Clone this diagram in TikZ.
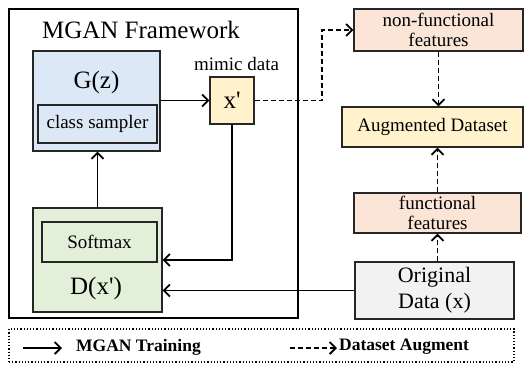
\documentclass[tikz,border=0pt]{standalone}
\usepackage{fontspec}
\setmainfont{Liberation Serif}
\usetikzlibrary{arrows.meta,positioning}
\definecolor{genblue}{RGB}{220,232,245}
\definecolor{disgreen}{RGB}{226,239,217}
\definecolor{mimicyel}{RGB}{255,242,204}
\definecolor{featsalmon}{RGB}{251,229,214}
\definecolor{origgray}{RGB}{242,242,242}

\begin{document}
\begin{tikzpicture}[
  x=1pt, y=-1pt,
  box/.style={rectangle, draw=black!85, line width=1.2pt, inner sep=0pt,
              align=center, font=\fontsize{19}{20}\selectfont},
  big/.style={inner sep=0pt, font=\fontsize{25}{27}\selectfont},
  legtext/.style={inner sep=0pt, anchor=west, font=\fontsize{17.5}{19}\selectfont\bfseries},
  train/.style={-{Straight Barb[length=6pt,width=12pt]}, line width=1.8pt},
  augment/.style={train, dash pattern=on 5pt off 3pt},
]
  \useasboundingbox (0,0) rectangle (524,364);

  % -- MGAN Framework --
  \node[rectangle, draw, line width=1.8pt, minimum width=289pt, minimum height=309pt]
    (frame) at (153.5,163.5) {};
  \node[big] (title) at (141,30) {MGAN Framework};

  % Generator
  \node[box, fill=genblue, minimum width=127pt, minimum height=100pt] (gz) at (96.5,101) {};
  \node[big] (gzlabel) at (96.5,82) {G(z)};
  \node[box, fill=genblue, minimum width=119pt, minimum height=38pt] (sampler) at (97.5,124) {class sampler};

  % Mimic data
  \node[box, fill=mimicyel, minimum width=44pt, minimum height=47pt, font=\fontsize{25}{27}\selectfont]
    (xp) at (232,100.5) {x\textquotesingle};
  \node[inner sep=0pt, font=\fontsize{19}{20}\selectfont] (mimic) at (236.5,64) {mimic data};

  % Discriminator
  \node[box, fill=disgreen, minimum width=129pt, minimum height=104pt] (dx) at (97.5,260) {};
  \node[box, fill=disgreen, minimum width=115pt, minimum height=40pt] (softmax) at (99.5,242) {Softmax};
  \node[big] (dxlabel) at (96,288) {D(x\textquotesingle)};

  % -- Dataset side --
  \node[box, fill=featsalmon, minimum width=169pt, minimum height=42pt] (nonfunc) at (438.5,30)
    {non-functional\\features};
  \node[box, fill=mimicyel, minimum width=181pt, minimum height=40pt] (augds) at (432.5,127)
    {Augmented Dataset};
  \node[box, fill=featsalmon, minimum width=167pt, minimum height=40pt] (func) at (437.5,213)
    {functional\\features};
  \node[box, fill=origgray, minimum width=159pt, minimum height=57pt,
        font=\fontsize{22}{26}\selectfont] (orig) at (434.5,290.5) {Original\\Data (x)};

  % Connections
  \draw[train] (gz.east |- xp.west) -- (xp.west);
  \draw[train] (dx.north) -- (dx.north |- gz.south);
  \draw[train] (xp.south) |- (dx.east);
  \draw[train] (orig.west) -- (orig.west -| dx.east);

  \draw[augment] (xp.east) -- ++(67,0) |- (nonfunc.west);
  \draw[augment] (nonfunc.south) -- (nonfunc.south |- augds.north);
  \draw[augment] (func.south |- orig.north) -- (func.south);
  \draw[augment] (func.north) -- (func.north |- augds.south);

  % Legend
  \node[rectangle, draw, dotted, line width=1.2pt, minimum width=505pt, minimum height=33pt]
    (legend) at (261.5,345.5) {};
  \coordinate (trainA) at (23,348);
  \coordinate (trainB) at (62,348);
  \coordinate (augA) at (290,348);
  \coordinate (augB) at (337,348);
  \draw[train] (trainA) -- (trainB);
  \draw[augment] (augA) -- (augB);
  \node[legtext] (traintxt) at (76,347) {MGAN Training};
  \node[legtext] (augtxt) at (339,347) {Dataset Augment};

\end{tikzpicture}
\end{document}
